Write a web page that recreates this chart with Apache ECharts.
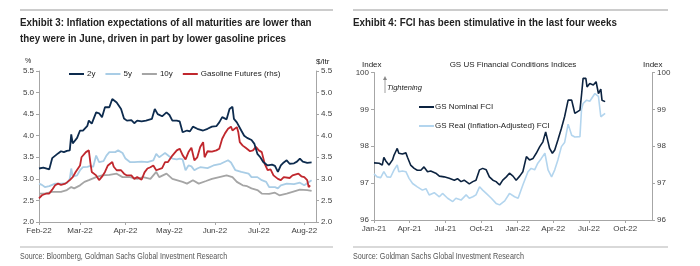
<!DOCTYPE html>
<html><head><meta charset="utf-8">
<script src="https://cdn.jsdelivr.net/npm/echarts@6/dist/echarts.min.js"></script>
<style>html,body{margin:0;padding:0;background:#fff}#c{width:700px;height:266px}</style>
</head><body><div id="c"></div><script>
// ---------- Left chart: inflation expectations ----------
const twoYDates = ['2022-02-01','2022-02-04','2022-02-08','2022-02-10','2022-02-14','2022-02-16','2022-02-18','2022-02-20','2022-02-22','2022-02-23','2022-02-24','2022-02-27','2022-03-01','2022-03-03','2022-03-06','2022-03-07','2022-03-09','2022-03-12','2022-03-14','2022-03-16','2022-03-18','2022-03-21','2022-03-23','2022-03-24','2022-03-26','2022-03-29','2022-03-31','2022-04-02','2022-04-05','2022-04-07','2022-04-09','2022-04-12','2022-04-15','2022-04-19','2022-04-21','2022-04-23','2022-04-26','2022-04-29','2022-05-01','2022-05-03','2022-05-06','2022-05-08','2022-05-10','2022-05-13','2022-05-15','2022-05-17','2022-05-20','2022-05-24','2022-05-27','2022-05-30','2022-06-02','2022-06-04','2022-06-06','2022-06-09','2022-06-11','2022-06-13','2022-06-14','2022-06-16','2022-06-19','2022-06-21','2022-06-23','2022-06-26','2022-06-28','2022-06-30','2022-07-02','2022-07-04','2022-07-07','2022-07-10','2022-07-12','2022-07-14','2022-07-16','2022-07-18','2022-07-20','2022-07-22','2022-07-25','2022-07-27','2022-07-29','2022-07-31','2022-08-03','2022-08-06'];
const twoYValues = [3.24,3.26,3.22,3.48,3.59,3.64,3.62,3.65,3.66,4.03,3.82,3.95,4.12,4.12,4.23,4.35,4.28,4.54,4.52,4.43,4.66,4.66,4.85,4.88,4.77,4.62,4.40,4.35,4.36,4.29,4.35,4.33,4.35,4.39,4.62,4.50,4.45,4.54,4.48,4.35,4.35,4.33,4.08,4.12,4.10,4.21,4.16,4.12,4.16,4.21,4.22,4.31,4.43,4.38,4.62,4.67,4.39,4.31,4.12,4.00,3.95,3.90,3.81,3.58,3.50,3.39,3.31,3.33,3.30,3.16,3.31,3.38,3.43,3.35,3.36,3.40,3.47,3.40,3.37,3.38];

const fiveYDates = ['2022-02-01','2022-02-03','2022-02-05','2022-02-08','2022-02-12','2022-02-16','2022-02-20','2022-02-22','2022-02-23','2022-02-24','2022-02-27','2022-03-01','2022-03-03','2022-03-06','2022-03-08','2022-03-10','2022-03-12','2022-03-14','2022-03-17','2022-03-19','2022-03-21','2022-03-25','2022-03-27','2022-03-30','2022-04-01','2022-04-04','2022-04-07','2022-04-12','2022-04-16','2022-04-20','2022-04-22','2022-04-24','2022-04-26','2022-04-28','2022-05-01','2022-05-03','2022-05-06','2022-05-08','2022-05-10','2022-05-12','2022-05-14','2022-05-16','2022-05-18','2022-05-20','2022-05-22','2022-05-27','2022-05-31','2022-06-05','2022-06-10','2022-06-12','2022-06-15','2022-06-19','2022-06-24','2022-06-26','2022-06-30','2022-07-03','2022-07-06','2022-07-08','2022-07-12','2022-07-14','2022-07-16','2022-07-20','2022-07-25','2022-07-29','2022-08-01','2022-08-03','2022-08-06'];
const fiveYValues = [2.89,2.86,2.81,2.83,2.89,2.89,2.90,3.00,3.24,3.05,3.08,3.20,3.27,3.28,3.30,3.28,3.54,3.39,3.41,3.54,3.62,3.62,3.66,3.60,3.47,3.39,3.39,3.40,3.39,3.43,3.58,3.50,3.55,3.60,3.52,3.47,3.45,3.47,3.45,3.20,3.31,3.29,3.20,3.24,3.27,3.25,3.31,3.35,3.43,3.38,3.20,3.16,3.12,3.04,3.04,2.97,2.93,2.81,2.81,2.78,2.85,2.89,2.88,2.91,2.85,2.90,2.97];

const tenYDates = ['2022-02-01','2022-02-05','2022-02-10','2022-02-16','2022-02-20','2022-02-23','2022-02-25','2022-03-01','2022-03-04','2022-03-07','2022-03-12','2022-03-16','2022-03-21','2022-03-26','2022-03-30','2022-04-04','2022-04-09','2022-04-13','2022-04-18','2022-04-22','2022-04-24','2022-04-29','2022-05-03','2022-05-10','2022-05-13','2022-05-17','2022-05-21','2022-05-26','2022-05-30','2022-06-04','2022-06-09','2022-06-13','2022-06-16','2022-06-20','2022-06-23','2022-06-26','2022-06-30','2022-07-03','2022-07-08','2022-07-12','2022-07-15','2022-07-20','2022-07-24','2022-07-29','2022-08-03','2022-08-06'];
const tenYValues = [2.66,2.66,2.70,2.70,2.74,2.81,2.78,2.85,2.93,2.97,3.04,3.08,3.09,3.12,3.04,3.04,3.00,3.04,3.00,3.16,3.04,3.12,3.00,2.93,2.89,2.97,2.89,2.95,3.00,3.04,3.08,3.04,2.93,2.85,2.83,2.78,2.74,2.66,2.65,2.68,2.62,2.66,2.70,2.75,2.74,2.72];

const gasDates = ['2022-02-01','2022-02-03','2022-02-06','2022-02-08','2022-02-10','2022-02-12','2022-02-14','2022-02-16','2022-02-19','2022-02-22','2022-02-24','2022-02-26','2022-03-01','2022-03-02','2022-03-05','2022-03-07','2022-03-08','2022-03-09','2022-03-12','2022-03-14','2022-03-16','2022-03-18','2022-03-20','2022-03-23','2022-03-24','2022-03-26','2022-03-29','2022-03-31','2022-04-02','2022-04-05','2022-04-07','2022-04-09','2022-04-12','2022-04-14','2022-04-16','2022-04-18','2022-04-20','2022-04-22','2022-04-26','2022-04-28','2022-04-30','2022-05-03','2022-05-06','2022-05-08','2022-05-10','2022-05-12','2022-05-14','2022-05-16','2022-05-18','2022-05-20','2022-05-22','2022-05-24','2022-05-25','2022-05-27','2022-05-30','2022-06-02','2022-06-04','2022-06-06','2022-06-08','2022-06-10','2022-06-12','2022-06-13','2022-06-16','2022-06-17','2022-06-18','2022-06-20','2022-06-22','2022-06-25','2022-06-27','2022-06-29','2022-07-01','2022-07-03','2022-07-05','2022-07-07','2022-07-09','2022-07-11','2022-07-14','2022-07-16','2022-07-18','2022-07-22','2022-07-24','2022-07-28','2022-07-30','2022-08-01','2022-08-03','2022-08-04','2022-08-05'];
const gasValues = [2.55,2.62,2.66,2.66,2.75,2.85,2.89,2.86,2.89,2.97,3.04,3.16,3.31,3.50,3.62,3.66,3.39,3.16,3.08,2.97,3.05,3.16,3.31,3.39,3.28,3.20,3.20,3.12,3.08,3.08,3.00,3.04,2.98,3.15,3.24,3.27,3.31,3.20,3.25,3.39,3.39,3.54,3.66,3.70,3.55,3.45,3.62,3.72,3.43,3.50,3.74,3.85,3.50,3.64,3.63,3.66,3.70,3.93,4.06,4.16,4.21,4.12,4.20,4.08,3.85,3.77,3.72,3.64,3.66,3.74,3.66,3.62,3.35,3.20,3.22,3.08,3.00,2.97,3.04,3.02,3.08,3.12,3.06,3.04,2.97,2.81,2.85];

const leftTicks = [2.0, 2.5, 3.0, 3.5, 4.0, 4.5, 5.0, 5.5];

// ---------- Right chart: GS FCI ----------
const nomDates = ['2021-01-01','2021-01-05','2021-01-14','2021-01-22','2021-01-26','2021-01-31','2021-02-08','2021-02-17','2021-02-21','2021-02-25','2021-03-01','2021-03-05','2021-03-10','2021-03-14','2021-03-23','2021-03-27','2021-04-04','2021-04-13','2021-04-21','2021-04-30','2021-05-08','2021-05-17','2021-05-25','2021-06-07','2021-06-16','2021-06-28','2021-07-11','2021-07-24','2021-08-01','2021-08-10','2021-08-18','2021-08-31','2021-09-09','2021-09-17','2021-09-26','2021-10-04','2021-10-13','2021-10-21','2021-10-30','2021-11-07','2021-11-16','2021-11-24','2021-12-03','2021-12-11','2021-12-20','2021-12-28','2022-01-06','2022-01-14','2022-01-23','2022-01-31','2022-02-09','2022-02-17','2022-02-26','2022-03-06','2022-03-13','2022-03-19','2022-03-23','2022-03-30','2022-04-05','2022-04-13','2022-04-22','2022-04-30','2022-05-09','2022-05-18','2022-05-22','2022-05-26','2022-05-31','2022-06-08','2022-06-12','2022-06-16','2022-06-23','2022-06-26','2022-07-03','2022-07-12','2022-07-19','2022-07-25','2022-07-31','2022-08-03','2022-08-07','2022-08-11'];
const nomValues = [97.55,97.56,97.54,97.49,97.70,97.60,97.49,97.63,97.76,97.85,97.94,97.81,97.82,97.79,97.82,97.70,97.49,97.40,97.35,97.35,97.44,97.31,97.33,97.27,97.19,97.17,97.13,97.08,97.12,97.04,97.08,96.98,97.04,97.08,97.36,97.40,97.36,97.17,97.08,97.04,96.95,97.08,97.17,97.27,97.19,97.08,97.19,97.31,97.72,97.63,97.67,97.81,97.99,98.12,98.39,98.12,97.94,97.81,97.90,98.17,98.49,98.80,99.25,99.25,99.07,98.89,98.93,98.98,99.39,99.84,99.84,99.61,99.70,99.66,99.75,99.43,99.55,99.25,99.30,99.21];

const realDates = ['2021-01-01','2021-01-09','2021-01-18','2021-01-26','2021-02-03','2021-02-12','2021-02-21','2021-03-01','2021-03-05','2021-03-14','2021-03-23','2021-03-31','2021-04-09','2021-04-21','2021-05-04','2021-05-13','2021-05-21','2021-06-03','2021-06-16','2021-06-24','2021-07-07','2021-07-20','2021-07-28','2021-08-10','2021-08-23','2021-08-31','2021-09-09','2021-09-17','2021-09-26','2021-10-04','2021-10-13','2021-10-26','2021-11-07','2021-11-16','2021-11-29','2021-12-11','2021-12-24','2022-01-02','2022-01-14','2022-01-27','2022-02-04','2022-02-13','2022-02-21','2022-03-02','2022-03-11','2022-03-19','2022-03-28','2022-04-05','2022-04-13','2022-04-22','2022-04-30','2022-05-09','2022-05-18','2022-05-26','2022-06-08','2022-06-12','2022-06-16','2022-06-25','2022-07-03','2022-07-16','2022-07-25','2022-07-31','2022-08-05','2022-08-11'];
const realValues = [97.25,97.17,97.15,97.31,97.17,97.16,97.36,97.49,97.31,97.33,97.31,97.13,96.99,96.90,96.81,96.85,96.68,96.74,96.63,96.72,96.59,96.50,96.59,96.54,96.68,96.59,96.63,96.68,96.90,96.81,96.72,96.59,96.45,96.41,96.52,96.72,96.63,96.59,96.95,97.31,97.40,97.36,97.54,97.67,97.81,97.36,97.17,97.36,97.63,97.99,98.10,98.60,98.30,98.25,98.26,99.00,99.16,99.25,99.22,99.43,99.35,98.80,98.76,98.89];

const rightTicks = [96, 97, 98, 99, 100];

// ---------- helpers ----------
const MONTHS = ['Jan','Feb','Mar','Apr','May','Jun','Jul','Aug','Sep','Oct','Nov','Dec'];
function dayRange(start, end) {
  const out = []; let t = Date.parse(start + 'T00:00:00Z'); const e = Date.parse(end + 'T00:00:00Z');
  while (t <= e) { out.push(new Date(t).toISOString().slice(0, 10)); t += 86400000; }
  return out;
}
const zip = (a, b) => a.map((d, i) => [d, b[i]]);
const fmtMonth = v => MONTHS[+v.slice(5, 7) - 1] + '-' + v.slice(2, 4);
const leftCats = dayRange('2022-02-01', '2022-08-09');
const rightCats = dayRange('2021-01-01', '2022-12-08');
const isMonthStart = (i, v) => v.slice(8) === '01';
const isQuarterStart = (i, v) => v.slice(8) === '01' && ['01','04','07','10'].includes(v.slice(5, 7));

const FONT = '"Liberation Sans", Arial, sans-serif';
const AX = '#a6a6a6';
const LBL = '#404040';

function xAxisCfg(grid, cats, intervalFn) {
  return {
    type: 'category', gridIndex: grid, data: cats, boundaryGap: false,
    axisLine: { lineStyle: { color: AX, width: 1 } },
    axisTick: { show: true, interval: intervalFn, length: 3, lineStyle: { color: AX } },
    axisLabel: { interval: intervalFn, formatter: fmtMonth, color: LBL, fontSize: 8, fontFamily: FONT, margin: 5 },
    splitLine: { show: false }
  };
}
function yAxisCfg(grid, pos, min, max, step, fmt) {
  return {
    type: 'value', gridIndex: grid, position: pos, min: min, max: max, interval: step,
    axisLine: { show: true, lineStyle: { color: AX, width: 1 } },
    axisTick: { show: true, length: 3, lineStyle: { color: AX } },
    axisLabel: { formatter: fmt, color: LBL, fontSize: 8, fontFamily: FONT, margin: 5 },
    splitLine: { show: false }
  };
}

const chart = echarts.init(document.getElementById('c'), null, { renderer: 'canvas' });
const text = (x, y, s, font, opts) => Object.assign({
  type: 'text', x: x, y: y,
  style: Object.assign({ text: s, fill: '#222', font: font, verticalAlign: 'top', align: 'left' }, (opts && opts.style) || {})
}, (opts && opts.el) || {});
const hline = (x1, x2, y, color, w) => ({ type: 'line', shape: { x1: x1, y1: y, x2: x2, y2: y }, style: { stroke: color, lineWidth: w } });

chart.setOption({
  animation: false,
  backgroundColor: '#fff',
  grid: [
    { left: 39, right: 384, top: 71, bottom: 44 },
    { left: 374, right: 48, top: 72.5, bottom: 46 }
  ],
  xAxis: [ xAxisCfg(0, leftCats, isMonthStart), xAxisCfg(1, rightCats, isQuarterStart) ],
  yAxis: [
    yAxisCfg(0, 'left', leftTicks[0], leftTicks[leftTicks.length - 1], 0.5, v => v.toFixed(1)),
    yAxisCfg(0, 'right', leftTicks[0], leftTicks[leftTicks.length - 1], 0.5, v => v.toFixed(1)),
    yAxisCfg(1, 'left', rightTicks[0], rightTicks[rightTicks.length - 1], 1, v => String(v)),
    yAxisCfg(1, 'right', rightTicks[0], rightTicks[rightTicks.length - 1], 1, v => String(v))
  ],
  legend: [
    {
      data: ['2y', '5y', '10y', 'Gasoline Futures (rhs)'],
      left: 64, top: 65, icon: 'rect', itemWidth: 15, itemHeight: 2, itemGap: 10,
      textStyle: { fontSize: 8, fontFamily: FONT, color: '#222', padding: [0, 0, 0, -2] }
    },
    {
      data: ['GS Nominal FCI', 'GS Real (Inflation-Adjusted) FCI'],
      orient: 'vertical', left: 414, top: 98, icon: 'rect', itemWidth: 15, itemHeight: 2, itemGap: 11,
      textStyle: { fontSize: 8, fontFamily: FONT, color: '#222', padding: [0, 0, 0, -4] }
    }
  ],
  series: [
    { name: '10y', type: 'line', xAxisIndex: 0, yAxisIndex: 0, data: zip(tenYDates, tenYValues), showSymbol: false, lineStyle: { color: '#a5a5a5', width: 1.8 }, itemStyle: { color: '#a5a5a5' } },
    { name: '5y', type: 'line', xAxisIndex: 0, yAxisIndex: 0, data: zip(fiveYDates, fiveYValues), showSymbol: false, lineStyle: { color: '#a9cde6', width: 1.8 }, itemStyle: { color: '#a9cde6' } },
    { name: 'Gasoline Futures (rhs)', type: 'line', xAxisIndex: 0, yAxisIndex: 1, data: zip(gasDates, gasValues), showSymbol: false, lineStyle: { color: '#c0272d', width: 1.8 }, itemStyle: { color: '#c0272d' } },
    { name: '2y', type: 'line', xAxisIndex: 0, yAxisIndex: 0, data: zip(twoYDates, twoYValues), showSymbol: false, lineStyle: { color: '#0d2b4e', width: 1.8 }, itemStyle: { color: '#0d2b4e' } },
    { name: 'GS Real (Inflation-Adjusted) FCI', type: 'line', xAxisIndex: 1, yAxisIndex: 2, data: zip(realDates, realValues), showSymbol: false, lineStyle: { color: '#b3d5ee', width: 1.6 }, itemStyle: { color: '#b3d5ee' } },
    { name: 'GS Nominal FCI', type: 'line', xAxisIndex: 1, yAxisIndex: 2, data: zip(nomDates, nomValues), showSymbol: false, lineStyle: { color: '#0c2340', width: 1.6 }, itemStyle: { color: '#0c2340' } }
  ],
  graphic: [
    hline(20, 333, 10, '#cccccc', 2),
    hline(353, 668, 10, '#cccccc', 2),
    hline(20, 333, 247, '#cccccc', 1.5),
    hline(353, 668, 247, '#cccccc', 1.5),
    text(20, 17.5, 'Exhibit 3: Inflation expectations of all maturities are lower than', 'bold 11px ' + FONT, { el: { scaleX: 0.89 } }),
    text(20, 33, 'they were in June, driven in part by lower gasoline prices', 'bold 11px ' + FONT, { el: { scaleX: 0.89 } }),
    text(353, 17.5, 'Exhibit 4: FCI has been stimulative in the last four weeks', 'bold 11px ' + FONT, { el: { scaleX: 0.89 } }),
    text(20, 252, 'Source: Bloomberg, Goldman Sachs Global Investment Research', '9px ' + FONT, { el: { scaleX: 0.79 }, style: { fill: '#555' } }),
    text(353, 252, 'Source: Goldman Sachs Global Investment Research', '9px ' + FONT, { el: { scaleX: 0.8 }, style: { fill: '#555' } }),
    text(25, 58, '%', '7px ' + FONT),
    text(316, 58, '$/ltr', '8px ' + FONT),
    text(362, 61, 'Index', '8px ' + FONT),
    text(643, 61, 'Index', '8px ' + FONT),
    text(513, 61, 'GS US Financial Conditions Indices', '8px ' + FONT, { style: { align: 'center' } }),
    text(387, 84, 'Tightening', 'italic 7.5px ' + FONT),
    { type: 'line', shape: { x1: 385, y1: 93, x2: 385, y2: 79 }, style: { stroke: '#888', lineWidth: 0.8 } },
    { type: 'polygon', shape: { points: [[383, 80], [387, 80], [385, 76]] }, style: { fill: '#888' } }
  ]
});
</script></body></html>
